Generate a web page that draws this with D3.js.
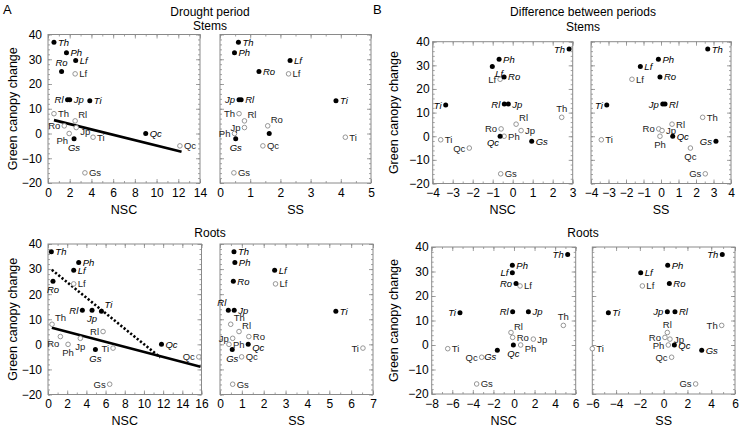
<!DOCTYPE html>
<html><head><meta charset="utf-8">
<script src="https://cdn.jsdelivr.net/npm/d3@7"></script>
<style>
body{margin:0;background:#fff}
svg{display:block}
text{font-family:"Liberation Sans",Arial,Helvetica,sans-serif}
</style>
</head><body>
<svg id="chart" width="741" height="429"></svg>
<script>
// ---------------- DATA ----------------
const species = ["Th","Ph","Lf","Ro","Rl","Jp","Ti","Qc","Gs"];
// green canopy change (y), shared by all panels
const canopyFilled = [36.9, 32.6, 29.5, 25.1, 13.6, 13.6, 13.2, 0, -2.1];
const canopyOpen   = [8.0, 0, 24.1, 3.1, 5.1, 2.4, -1.5, -5.0, -15.9];

// A: drought period, stems
const aStemsNSC_F = [0.55, 1.7, 2.55, 1.25, 1.8, 2.0, 3.85, 9.0, 2.4];
const aStemsNSC_O = [0.55, 1.95, 2.5, 1.5, 2.5, 2.6, 4.15, 12.15, 3.4];
const aStemsSS_F  = [0.61, 0.48, 2.32, 1.29, 0.70, 0.63, 3.84, 1.63, 0.52];
const aStemsSS_O  = [0.63, 0.48, 2.27, 1.58, 0.81, 0.81, 4.15, 1.42, 0.46];
// B: difference between periods, stems
const bStemsNSC_F = [2.82, -0.68, -1.02, -0.43, -0.42, -0.22, -3.35, -0.63, 0.95];
const bStemsNSC_O = [2.45, -0.43, -0.63, -0.58, 0.17, 0.42, -3.6, -2.17, -0.6];
const bStemsSS_F  = [2.67, -0.15, -1.18, -0.06, 0.23, 0.1, -3.1, 0.67, 3.14];
const bStemsSS_O  = [2.38, -0.06, -1.66, -0.13, 0.63, 0.06, -3.41, 1.68, 2.53];
// A: drought period, roots
const aRootsNSC_F = [0.35, 3.2, 2.68, 0.52, 3.58, 4.59, 5.57, 11.83, 4.94];
const aRootsNSC_O = [0.42, 2.09, 2.68, 1.29, 5.74, 3.37, 6.78, 15.72, 6.43];
const aRootsSS_F  = [0.64, 0.68, 2.5, 0.61, 0.38, 0.65, 5.3, 1.29, 0.56];
const aRootsSS_O  = [0.49, 0.41, 2.54, 1.32, 0.87, 0.58, 6.54, 0.99, 0.58];
// B: difference between periods, roots
const bRootsNSC_F = [5.22, -0.16, -0.16, 0.2, -0.13, 1.4, -5.25, -0.06, -1.62];
const bRootsNSC_O = [4.8, 0.65, 0.59, -0.13, -0.29, 1.88, -6.44, -3.14, -3.63];
const bRootsSS_F  = [4.93, 0.34, -1.93, 0.48, 0.95, 0.31, -4.65, 0.9, 3.2];
const bRootsSS_O  = [4.88, 0.39, -1.79, 0.11, 0.31, 0.53, -6.0, 0.67, 2.69];

// regression lines (NSC, canopy) end points
const fitStemsNSC      = [[0.55, 5.4], [12.3, -7.4]];
const fitRootsNSCsolid = [[0.4, 6.6], [15.9, -8.9]];
const fitRootsNSCdot   = [[0.4, 29.7], [11.7, -5.2]];

const yTickValues = [-20, -10, 0, 10, 20, 30, 40];

// ---------------- LAYOUT ----------------
// label placement codes per species (Th Ph Lf Ro Rl Jp Ti Qc Gs)
const place = {
  r:[4,3.5,"start"], l:[-4,3.5,"end"], t:[0,-5,"middle"], b:[0,12,"middle"],
  tr:[3,-3,"start"], tl:[-2,-4,"end"], br:[3,10,"start"], bl:[-1,10,"end"],
  rd:[4,7,"start"], n:null
};
const panels = [
  {x0:48, x1:200, y0:34.5, y1:183, xd:[0,14], step:2, minor:1, ylab:true, pad:6,
   F:aStemsNSC_F, O:aStemsNSC_O, lf:"r r r t l r r r b", lo:"r bl r l tr rd r r r",
   lines:[{pts:fitStemsNSC, dash:null}], xt:"NSC", titleY:214},
  {x0:220, x1:371, y0:34.5, y1:183, xd:[0,5], step:1, minor:0.5, ylab:false,
   F:aStemsSS_F, O:aStemsSS_O, lf:"r r r r r l r n b", lo:"l l r tr tr l r r r",
   lines:[], xt:"SS", titleY:214},
  {x0:432.7, x1:572.7, y0:41.7, y1:183.5, xd:[-4,3], step:1, minor:0.5, ylab:true, pad:3,
   F:bStemsNSC_F, O:bStemsNSC_O, lf:"l r br r l r l bl r", lo:"t r l l tr r r l r",
   lines:[], xt:"NSC", titleY:214},
  {x0:591, x1:731, y0:41.7, y1:183.5, xd:[-4,4], step:1, minor:0.5, ylab:false,
   F:bStemsSS_F, O:bStemsSS_O, lf:"r r r r r l l r l", lo:"r b r l r r r b l",
   lines:[], xt:"SS", titleY:214},
  {x0:48, x1:201.5, y0:244, y1:394.5, xd:[0,16], step:2, minor:1, ylab:true, pad:6,
   F:aRootsNSC_F, O:aRootsNSC_O, lf:"r r r b l b tr r b", lo:"tr b r bl l b l l l",
   lines:[{pts:fitRootsNSCsolid, dash:null},{pts:fitRootsNSCdot, dash:"2.2,2"}], xt:"NSC", titleY:425},
  {x0:220, x1:373, y0:244, y1:394.5, xd:[0,7], step:1, minor:0.5, ylab:false,
   F:aRootsSS_F, O:aRootsSS_O, lf:"r r r r tl r r rd b", lo:"tr r r r tr l l r r",
   lines:[], xt:"SS", titleY:425},
  {x0:431.7, x1:575.7, y0:247, y1:394, xd:[-8,6], step:2, minor:1, ylab:true, pad:3,
   F:bRootsNSC_F, O:bRootsNSC_O, lf:"l r l l l r l b bl", lo:"t rd r r tr r r l r",
   lines:[], xt:"NSC", titleY:425},
  {x0:592.3, x1:735, y0:247, y1:394, xd:[-6,6], step:2, minor:1, ylab:false,
   F:bRootsSS_F, O:bRootsSS_O, lf:"l r r r r l r r r", lo:"l l r l t r r l l",
   lines:[], xt:"SS", titleY:425}
];

const svg = d3.select("#chart");
const GRAY = "#8a8a8a";
const fmt = d3.format("d");
const LABEL_SIZE = 9.5;

function styleAxis(s){
  s.select(".domain").remove();
  s.selectAll("line").attr("stroke", GRAY).attr("stroke-width", 0.8);
  s.attr("font-size", 12).attr("font-family", "Liberation Sans, Arial, sans-serif");
  s.selectAll("text").attr("fill", "#000");
}

panels.forEach(p => {
  const x = d3.scaleLinear().domain(p.xd).range([p.x0, p.x1]);
  const y = d3.scaleLinear().domain([-20, 40]).range([p.y1, p.y0]);
  const g = svg.append("g");
  const majors = d3.range(p.xd[0], p.xd[1] + 1e-9, p.step);
  const minors = d3.range(p.xd[0], p.xd[1] + 1e-9, p.minor);
  const yMinor = d3.range(-20, 40.001, 2);

  // minor ticks
  g.append("g").attr("transform", `translate(0,${p.y1})`).call(d3.axisBottom(x).tickValues(minors).tickSize(-2).tickFormat("")).call(styleAxis);
  g.append("g").attr("transform", `translate(0,${p.y0})`).call(d3.axisTop(x).tickValues(minors).tickSize(-2).tickFormat("")).call(styleAxis);
  g.append("g").attr("transform", `translate(${p.x0},0)`).call(d3.axisLeft(y).tickValues(yMinor).tickSize(-2).tickFormat("")).call(styleAxis);
  g.append("g").attr("transform", `translate(${p.x1},0)`).call(d3.axisRight(y).tickValues(yMinor).tickSize(-2).tickFormat("")).call(styleAxis);
  // major ticks
  g.append("g").attr("transform", `translate(0,${p.y1})`).call(d3.axisBottom(x).tickValues(majors).tickSize(-4).tickPadding(5).tickFormat(fmt)).call(styleAxis);
  g.append("g").attr("transform", `translate(0,${p.y0})`).call(d3.axisTop(x).tickValues(majors).tickSize(-4).tickFormat("")).call(styleAxis);
  g.append("g").attr("transform", `translate(${p.x0},0)`).call(d3.axisLeft(y).tickValues(yTickValues).tickSize(-4).tickPadding(p.ylab ? p.pad : 0).tickFormat(p.ylab ? fmt : "")).call(styleAxis);
  g.append("g").attr("transform", `translate(${p.x1},0)`).call(d3.axisRight(y).tickValues(yTickValues).tickSize(-4).tickFormat("")).call(styleAxis);

  // frame
  g.append("rect").attr("x", p.x0).attr("y", p.y0).attr("width", p.x1 - p.x0).attr("height", p.y1 - p.y0)
    .attr("fill", "none").attr("stroke", GRAY).attr("stroke-width", 1);

  // regression lines
  const line = d3.line().x(d => x(d[0])).y(d => y(d[1]));
  p.lines.forEach(L => {
    g.append("path").attr("d", line(L.pts)).attr("fill", "none").attr("stroke", "#000")
      .attr("stroke-width", 2.6).attr("stroke-dasharray", L.dash);
  });

  // open points
  const lo = p.lo.split(" "), lf = p.lf.split(" ");
  species.forEach((s, i) => {
    const cx = x(p.O[i]), cy = y(canopyOpen[i]);
    g.append("circle").attr("cx", cx).attr("cy", cy).attr("r", 2.3)
      .attr("fill", "#fff").attr("stroke", GRAY).attr("stroke-width", 0.9);
    const o = place[lo[i]];
    if (o) g.append("text").attr("x", cx + o[0]).attr("y", cy + o[1]).attr("text-anchor", o[2])
      .attr("font-size", LABEL_SIZE).attr("fill", "#222").text(s);
  });
  // filled points
  species.forEach((s, i) => {
    const cx = x(p.F[i]), cy = y(canopyFilled[i]);
    g.append("circle").attr("cx", cx).attr("cy", cy).attr("r", 2.5).attr("fill", "#000");
    const o = place[lf[i]];
    if (o) g.append("text").attr("x", cx + o[0]).attr("y", cy + o[1]).attr("text-anchor", o[2])
      .attr("font-size", LABEL_SIZE).attr("font-style", "italic").attr("fill", "#000").text(s);
  });

  // x axis title
  g.append("text").attr("x", (p.x0 + p.x1) / 2).attr("y", p.titleY).attr("text-anchor", "middle")
    .attr("font-size", 12.5).text(p.xt);
  // y axis title
  if (p.ylab) {
    const cx = p.x0 < 100 ? 13 : 394;
    g.append("text").attr("transform", `translate(${cx},${(p.y0 + p.y1) / 2}) rotate(-90)`)
      .attr("text-anchor", "middle").attr("dy", "0.35em").attr("font-size", 12.5).text("Green canopy change");
  }
});

// headings
const heads = [
  {t:"A", x:3, y:14, a:"start", s:13},
  {t:"B", x:373, y:14, a:"start", s:13},
  {t:"Drought period", x:210, y:15.5, a:"middle", s:12},
  {t:"Stems", x:210, y:30, a:"middle", s:12},
  {t:"Difference between periods", x:583, y:15.5, a:"middle", s:12},
  {t:"Stems", x:583, y:30.5, a:"middle", s:12},
  {t:"Roots", x:210, y:236.5, a:"middle", s:12},
  {t:"Roots", x:583, y:236.5, a:"middle", s:12}
];
heads.forEach(h => svg.append("text").attr("x", h.x).attr("y", h.y).attr("text-anchor", h.a)
  .attr("font-size", h.s).text(h.t));
</script>
</body></html>
